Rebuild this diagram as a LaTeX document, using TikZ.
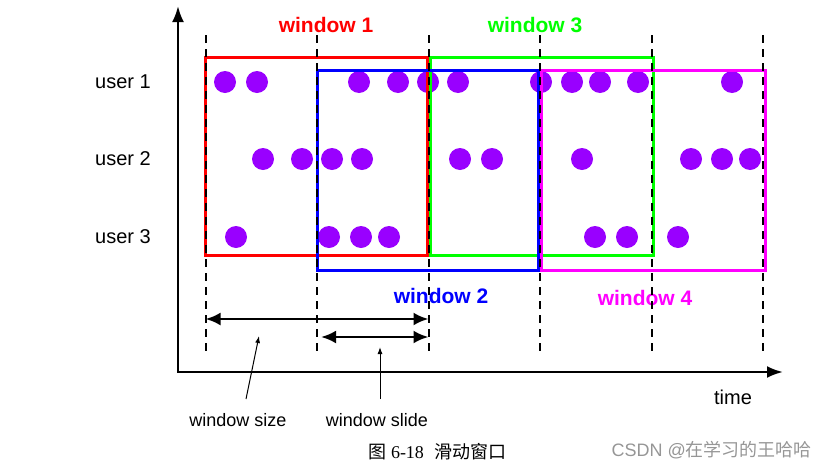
\documentclass[tikz,border=0pt]{standalone}
\usepackage{fontspec}
\setmainfont{Liberation Sans}
\newfontfamily\cjk{Noto Sans CJK SC}
\newfontfamily\capserif{Liberation Serif}
\usetikzlibrary{arrows.meta, positioning, calc}
\definecolor{WinRed}{RGB}{255, 0, 0}
\definecolor{WinGreen}{RGB}{0, 255, 0}
\definecolor{WinBlue}{RGB}{0, 0, 255}
\definecolor{WinMagenta}{RGB}{255, 0, 255}
\definecolor{EventPurple}{RGB}{153, 0, 255}
\definecolor{MarkGray}{RGB}{150, 150, 150}
\tikzset{
  winlabel/.style={font=\fontsize{21}{24}\selectfont\bfseries, inner sep=0pt},
  userlabel/.style={font=\fontsize{20}{24}\selectfont, inner sep=0pt},
  notelabel/.style={font=\fontsize{18}{20}\selectfont, inner sep=0pt},
  winbox/.style={line width=3pt},
  tickline/.style={black, line width=2pt, dash pattern=on 8pt off 6pt},
  event/.style={circle, fill=EventPurple, inner sep=0pt, minimum size=22pt},
  span/.style={line width=2.8pt, {Latex[length=15pt,width=13pt]}-{Latex[length=15pt,width=13pt]}},
  pointer/.style={line width=1pt, -{Latex[length=7pt,width=5pt]}},
}

\begin{document}
\begin{tikzpicture}[x=1pt, y=-1pt]
    \useasboundingbox (0,0) rectangle (828,469);

    % axes
    \coordinate (origin) at (178,372);
    \coordinate (ytop) at (178,6);
    \coordinate (xend) at (783,372);
    \draw[line width=2.5pt, {Latex[length=16pt,width=12pt]}-{Latex[length=16pt,width=12pt]}] (ytop) -- (origin) -- (xend);
    \node[userlabel] (time) at (733,397) {time};

    % users
    \node[userlabel] (user1) at (123,82) {user 1};
    \node[userlabel] (user2) at (123,159) {user 2};
    \node[userlabel] (user3) at (123,237) {user 3};

    % events
    \foreach \x [count=\i] in {225,257,359,398,428,458,541,572,600,638,732}
      \node[event] (a\i) at (\x,82) {};
    \foreach \x [count=\i] in {263,302,332,362,460,492,582,691,722,750}
      \node[event] (b\i) at (\x,159) {};
    \foreach \x [count=\i] in {236,329,361,389,595,627,678}
      \node[event] (c\i) at (\x,237) {};

    % windows
    \draw[winbox, WinRed] (205,57) rectangle (427,255);
    \draw[winbox, WinGreen] (430,57) rectangle (653,255);
    \draw[winbox, WinBlue] (317,70) rectangle (538,270);
    \draw[winbox, WinMagenta] (541,70) rectangle (765,270);
    \node[winlabel, text=WinRed] (win1) at (326,25) {window 1};
    \node[winlabel, text=WinGreen] (win3) at (535,25) {window 3};
    \node[winlabel, text=WinBlue] (win2) at (441,296) {window 2};
    \node[winlabel, text=WinMagenta] (win4) at (645,298) {window 4};

    % time ticks
    \foreach \x [count=\i] in {205.5,317,428.5,540,651.5,763} {
      \coordinate (top\i) at (\x,35);
      \coordinate (bot\i) at (\x,354);
      \draw[tickline] (top\i) -- (bot\i);
    }

    % size and slide
    \coordinate (sizey) at (0,319);
    \coordinate (slidey) at (0,337);
    \draw[span] (top1 |- sizey) -- (top3 |- sizey);
    \draw[span, shorten <=4pt] (top2 |- slidey) -- (top3 |- slidey);
    \node[notelabel] (sizenote) at (238,420) {window size};
    \node[notelabel] (slidenote) at (377,420) {window slide};
    \coordinate (sizefoot) at (246,399);
    \coordinate (sizehead) at (259,336);
    \coordinate (slidefoot) at (380,399);
    \coordinate (slidehead) at (380,347);
    \draw[pointer] (sizefoot) -- (sizehead);
    \draw[pointer] (slidefoot) -- (slidehead);

    % caption
    \node[font=\fontsize{18}{20}\selectfont, inner sep=0pt] (caption) at (437,452) {{\cjk 图} {\capserif 6-18}\ \ {\cjk 滑动窗口}};
    \node[font=\fontsize{18}{20}\selectfont, text=MarkGray, inner sep=0pt, anchor=east] (mark) at (812,450) {CSDN @{\cjk 在学习的王哈哈}};
\end{tikzpicture}
\end{document}
